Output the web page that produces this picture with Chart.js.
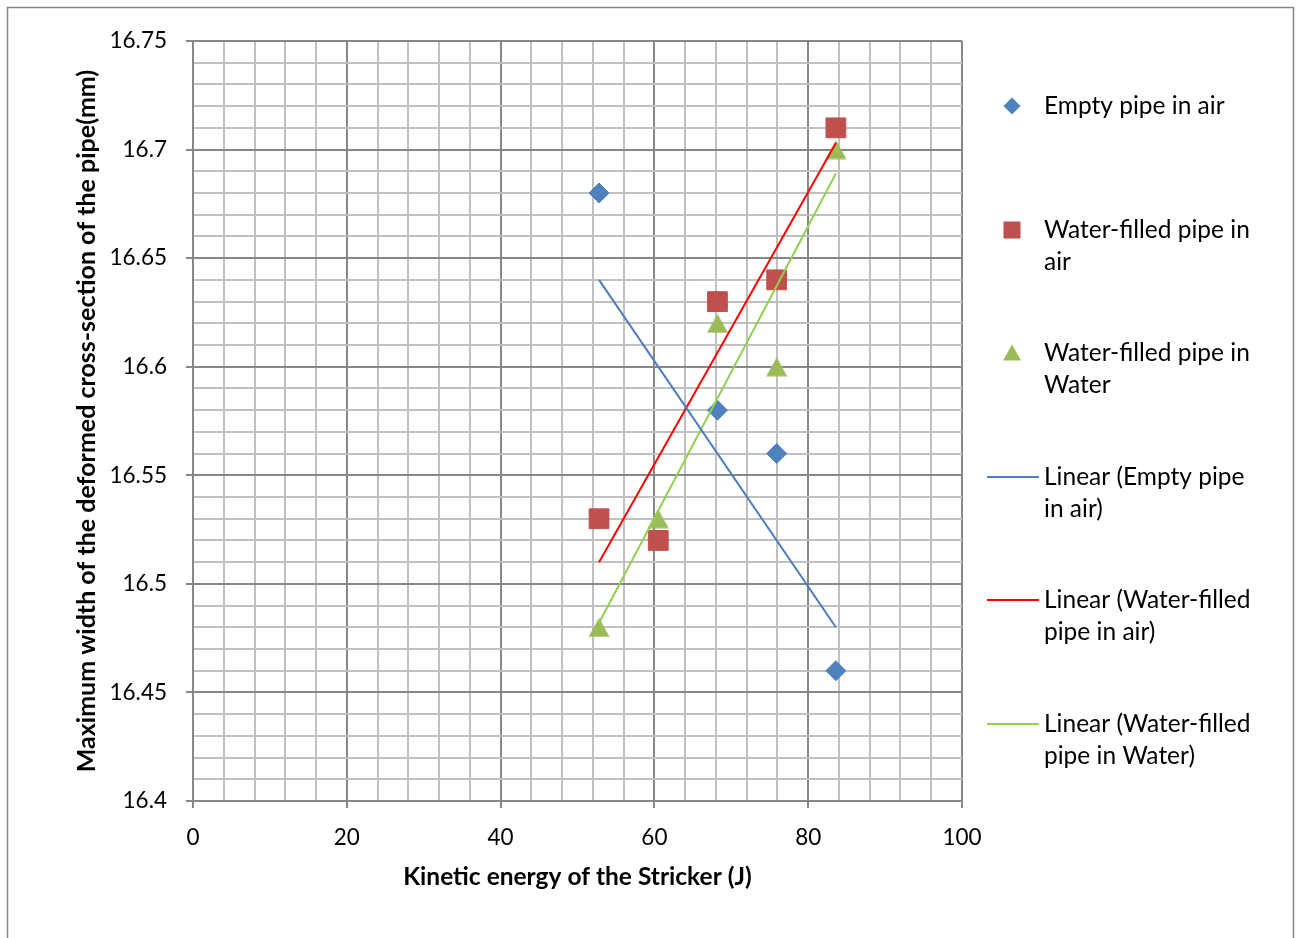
<!DOCTYPE html>
<html>
<head>
<meta charset="utf-8">
<title>Kinetic energy vs deformed width</title>
<script src="https://cdn.jsdelivr.net/npm/chart.js@4.4.1/dist/chart.umd.min.js"></script>
<style>
  html, body { margin: 0; padding: 0; background: #fff; }
</style>
</head>
<body>
<canvas id="grafico" width="1300" height="938"></canvas>
<script>
// datos
var energia = [52.8, 60.5, 68.2, 75.9, 83.6];
var vacioAire = [16.68, 16.52, 16.58, 16.56, 16.46];
var aguaAire = [16.53, 16.52, 16.63, 16.64, 16.71];
var aguaAgua = [16.48, 16.53, 16.62, 16.60, 16.70];

// extremos de las lineas de tendencia
var tendenciaX = [52.8, 83.6];
var tendVacioAire = [16.64, 16.48];
var tendAguaAire = [16.51, 16.703];
var tendAguaAgua = [16.482, 16.689];

var nombres = ['Empty pipe in air', 'Water-filled pipe in air', 'Water-filled pipe in Water',
    'Linear (Empty pipe in air)', 'Linear (Water-filled pipe in air)', 'Linear (Water-filled pipe in Water)'];
var leyendaLineas = [
    ['Empty pipe in air'],
    ['Water-filled pipe in', 'air'],
    ['Water-filled pipe in', 'Water'],
    ['Linear (Empty pipe', 'in air)'],
    ['Linear (Water-filled', 'pipe in air)'],
    ['Linear (Water-filled', 'pipe in Water)']
];

var xTicks = [0, 20, 40, 60, 80, 100];
var yTicks = [16.4, 16.45, 16.5, 16.55, 16.6, 16.65, 16.7, 16.75];

var FUENTE = 'Lato, "Open Sans", sans-serif';
var azul = '#4f81bd', rojo = '#c0504d', verde = '#9bbb59';
var lineaAzul = '#4a7ebb', lineaRoja = '#ff0000', lineaVerde = '#92d050';
var gridMayor = '#878787', gridMenor = '#c0c0c0';

function puntos(xs, ys) {
    return xs.map(function (x, i) { return { x: x, y: ys[i] }; });
}

function esMayorX(v) { return xTicks.indexOf(Math.round(v)) !== -1; }
function esMayorY(v) { return Math.round(v * 100) % 5 === 0; }

// triangulo centrado como en Excel (el de Chart.js queda algo alto)
function crearTriangulo(color) {
    var c = document.createElement('canvas');
    c.width = 22; c.height = 20;
    var t = c.getContext('2d');
    t.fillStyle = color;
    t.beginPath();
    t.moveTo(11, 0.5); t.lineTo(21.5, 19.5); t.lineTo(0.5, 19.5);
    t.closePath(); t.fill();
    return c;
}
var trianguloVerde = crearTriangulo(verde);

var marcoPlugin = {
    id: 'marco',
    beforeDraw: function (chart) {
        var ctx = chart.ctx;
        ctx.save();
        ctx.fillStyle = '#fff';
        ctx.fillRect(0, 0, chart.width, chart.height);
        ctx.strokeStyle = '#868686';
        ctx.lineWidth = 1.5;
        ctx.strokeRect(7.5, 7.5, 1286, 1000);
        ctx.restore();
    }
};

var leyendaPlugin = {
    id: 'leyenda',
    afterDraw: function (chart) {
        var ctx = chart.ctx;
        var ys = [106, 230, 353, 477, 600, 724];
        var colores = [azul, rojo, verde, lineaAzul, lineaRoja, lineaVerde];
        ctx.save();
        ctx.font = '24.5px ' + FUENTE;
        ctx.textBaseline = 'middle';
        ctx.textAlign = 'left';
        leyendaLineas.forEach(function (lineas, i) {
            var y = ys[i];
            ctx.fillStyle = colores[i];
            ctx.strokeStyle = colores[i];
            if (i === 0) {
                ctx.beginPath();
                ctx.moveTo(1012, y - 8.5); ctx.lineTo(1020.5, y); ctx.lineTo(1012, y + 8.5); ctx.lineTo(1003.5, y);
                ctx.closePath(); ctx.fill();
            } else if (i === 1) {
                ctx.fillRect(1003.5, y - 8.5, 17, 17);
            } else if (i === 2) {
                ctx.beginPath();
                ctx.moveTo(1012, y - 8.5); ctx.lineTo(1021, y + 7.5); ctx.lineTo(1003, y + 7.5);
                ctx.closePath(); ctx.fill();
            } else {
                ctx.lineWidth = 2;
                ctx.beginPath(); ctx.moveTo(987, y); ctx.lineTo(1039, y); ctx.stroke();
            }
            ctx.fillStyle = '#000';
            lineas.forEach(function (t, j) {
                ctx.fillText(t, 1044, y + j * 32);
            });
        });
        ctx.restore();
    }
};

var ctx = document.getElementById('grafico').getContext('2d');
var grafico = new Chart(ctx, {
    type: 'scatter',
    data: {
        datasets: [{
            label: nombres[0],
            data: puntos(energia, vacioAire),
            pointStyle: 'rectRot', pointRadius: 10, pointHoverRadius: 10,
            backgroundColor: azul, borderColor: azul, borderWidth: 1,
            order: 3
        }, {
            label: nombres[1],
            data: puntos(energia, aguaAire),
            pointStyle: 'rect', pointRadius: 14, pointHoverRadius: 14,
            backgroundColor: rojo, borderColor: rojo, borderWidth: 1,
            order: 2
        }, {
            label: nombres[2],
            data: puntos(energia, aguaAgua),
            pointStyle: trianguloVerde, pointRadius: 11, pointHoverRadius: 11,
            backgroundColor: verde, borderColor: verde, borderWidth: 0,
            order: 1
        }, {
            label: nombres[3],
            data: puntos(tendenciaX, tendVacioAire),
            showLine: true, pointRadius: 0, borderColor: lineaAzul, borderWidth: 2,
            order: 0
        }, {
            label: nombres[4],
            data: puntos(tendenciaX, tendAguaAire),
            showLine: true, pointRadius: 0, borderColor: lineaRoja, borderWidth: 2,
            order: 0
        }, {
            label: nombres[5],
            data: puntos(tendenciaX, tendAguaAgua),
            showLine: true, pointRadius: 0, borderColor: lineaVerde, borderWidth: 2,
            order: 0
        }]
    },
    options: {
        responsive: false,
        animation: false,
        layout: { padding: { left: 0, right: 338, top: 41, bottom: 0 } },
        plugins: {
            legend: { display: false },
            tooltip: { enabled: false }
        },
        scales: {
            x: {
                type: 'linear',
                min: 0, max: 100,
                afterFit: function (scale) { scale.height = 137; },
                ticks: {
                    stepSize: 4,
                    autoSkip: false,
                    maxRotation: 0,
                    padding: 16,
                    color: '#000',
                    font: { family: FUENTE, size: 22.5 },
                    callback: function (v) { return esMayorX(v) ? String(Math.round(v)) : ''; }
                },
                grid: {
                    lineWidth: 2,
                    tickLength: 7,
                    color: function (c) { return c.tick && esMayorX(c.tick.value) ? gridMayor : gridMenor; },
                    tickColor: function (c) { return c.tick && esMayorX(c.tick.value) ? gridMayor : 'rgba(0,0,0,0)'; }
                },
                border: { color: gridMayor, width: 2 },
                title: {
                    display: true,
                    text: 'Kinetic energy of the Stricker (J)',
                    color: '#000',
                    font: { family: FUENTE, size: 24.5, weight: 'bold' },
                    padding: { top: 0, bottom: 46 }
                }
            },
            y: {
                min: 16.4, max: 16.75,
                afterFit: function (scale) { scale.width = 193; },
                ticks: {
                    stepSize: 0.01,
                    autoSkip: false,
                    padding: 19,
                    color: '#000',
                    font: { family: FUENTE, size: 22.5 },
                    callback: function (v) {
                        var k = Math.round(v * 100);
                        return k % 5 === 0 ? String(k / 100) : '';
                    }
                },
                grid: {
                    lineWidth: 2,
                    tickLength: 7,
                    color: function (c) { return c.tick && esMayorY(c.tick.value) ? gridMayor : gridMenor; },
                    tickColor: function (c) { return c.tick && esMayorY(c.tick.value) ? gridMayor : 'rgba(0,0,0,0)'; }
                },
                border: { color: gridMayor, width: 2 },
                title: {
                    display: true,
                    text: 'Maximum width of the deformed cross-section of the pipe(mm)',
                    color: '#000',
                    font: { family: FUENTE, size: 25, weight: 'bold' },
                    padding: { top: 72, bottom: 0 }
                }
            }
        }
    },
    plugins: [marcoPlugin, leyendaPlugin]
});
</script>
</body>
</html>
